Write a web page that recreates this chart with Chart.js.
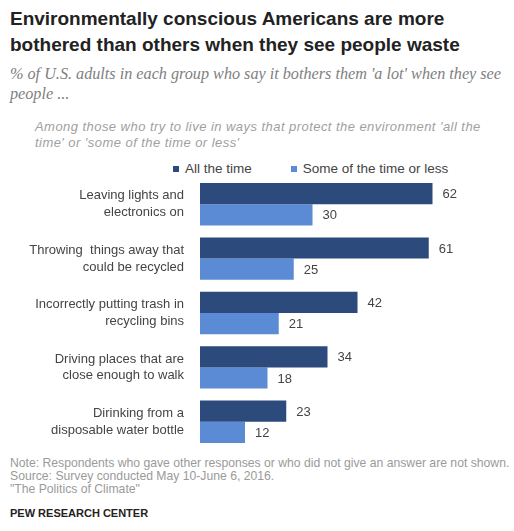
<!DOCTYPE html>
<html>
<head>
<meta charset="utf-8">
<script src="https://cdn.jsdelivr.net/npm/chart.js@4"></script>
<style>
  html, body { margin: 0; padding: 0; background: #fff; }
  body { width: 514px; height: 531px; position: relative; overflow: hidden; font-family: "Liberation Sans", Arial, sans-serif; }
  .abs { position: absolute; left: 10px; white-space: nowrap; }
  #title { top: 6px; font-weight: bold; font-size: 19px; line-height: 26px; color: #222; }
  #subtitle { top: 64px; font-family: "Liberation Serif", Georgia, serif; font-style: italic; font-size: 16.2px; line-height: 20px; color: #808080; }
  #chartnote { top: 119px; left: 35px; font-style: italic; font-size: 13px; letter-spacing: 0.45px; line-height: 16px; color: #a0a0a0; }
  #legend { top: 161px; left: 173px; font-size: 13.5px; color: #444; display: flex; }
  #legend span.item { display: flex; align-items: center; margin-right: 39px; }
  #legend span.box { width: 6px; height: 6px; margin-right: 6px; display: inline-block; }
  #wrap { position: absolute; left: 0; top: 175px; width: 514px; height: 277px; }
  #notes { top: 457px; font-size: 12.2px; line-height: 13px; color: #9a9a9a; }
  #pew { top: 507px; font-weight: bold; font-size: 11px; color: #222; }
</style>
</head>
<body>
<div id="title" class="abs">Environmentally conscious Americans are more<br>bothered than others when they see people waste</div>
<div id="subtitle" class="abs">% of U.S. adults in each group who say it bothers them 'a lot' when they see<br>people ...</div>
<div id="chartnote" class="abs">Among those who try to live in ways that protect the environment 'all the<br>time' or 'some of the time or less'</div>
<div id="legend" class="abs"></div>
<div id="wrap"><canvas id="chart"></canvas></div>
<div id="notes" class="abs">Note: Respondents who gave other responses or who did not give an answer are not shown.<br>Source: Survey conducted May 10-June 6, 2016.<br>"The Politics of Climate"</div>
<div id="pew" class="abs">PEW RESEARCH CENTER</div>
<script>
// Data
const categories = [
    ['Leaving lights and', 'electronics on'],
    ['Throwing  things away that', 'could be recycled'],
    ['Incorrectly putting trash in', 'recycling bins'],
    ['Driving places that are', 'close enough to walk'],
    ['Dirinking from a', 'disposable water bottle']
];
const allTheTime = [62, 61, 42, 34, 23];
const someOrLess = [30, 25, 21, 18, 12];
const seriesNames = ['All the time', 'Some of the time or less'];
const seriesColors = ['#2c4a7c', '#5b8bd4'];

// Value labels just past the end of each bar
const valueLabels = {
    id: 'valueLabels',
    afterDatasetsDraw: function (chart) {
        const ctx = chart.ctx;
        ctx.save();
        ctx.font = '13px "Liberation Sans", Arial, sans-serif';
        ctx.fillStyle = '#444';
        ctx.textAlign = 'left';
        ctx.textBaseline = 'middle';
        chart.data.datasets.forEach(function (ds, di) {
            chart.getDatasetMeta(di).data.forEach(function (bar, i) {
                ctx.fillText(String(ds.data[i]), bar.x + 10, bar.y + 1);
            });
        });
        ctx.restore();
    }
};

const chart = new Chart(document.getElementById('chart'), {
    type: 'bar',
    data: {
        labels: categories,
        datasets: [
            { label: seriesNames[0], data: allTheTime, backgroundColor: seriesColors[0] },
            { label: seriesNames[1], data: someOrLess, backgroundColor: seriesColors[1] }
        ]
    },
    options: {
        indexAxis: 'y',
        responsive: true,
        maintainAspectRatio: false,
        animation: false,
        layout: { padding: { top: 2, bottom: 3, left: 0, right: 14 } },
        datasets: { bar: { barPercentage: 1, categoryPercentage: 0.78, borderWidth: 0 } },
        plugins: {
            legend: { display: false },
            tooltip: { enabled: false }
        },
        scales: {
            x: { display: false, min: 0, max: 80 },
            y: {
                grid: { display: false },
                border: { display: false },
                ticks: {
                    padding: 8,
                    color: '#444',
                    font: { family: '"Liberation Sans", Arial, sans-serif', size: 13, lineHeight: 1.3 }
                },
                afterFit: function (scale) {
                    // fixed label column; no extra room for the two-line end labels
                    scale.width = 200;
                    scale.paddingTop = 0;
                    scale.paddingBottom = 0;
                }
            }
        }
    },
    plugins: [valueLabels]
});

// HTML legend built from the chart's datasets
const legendEl = document.getElementById('legend');
chart.data.datasets.forEach(function (ds) {
    const item = document.createElement('span');
    item.className = 'item';
    const box = document.createElement('span');
    box.className = 'box';
    box.style.background = ds.backgroundColor;
    item.appendChild(box);
    item.appendChild(document.createTextNode(ds.label));
    legendEl.appendChild(item);
});
</script>
</body>
</html>
